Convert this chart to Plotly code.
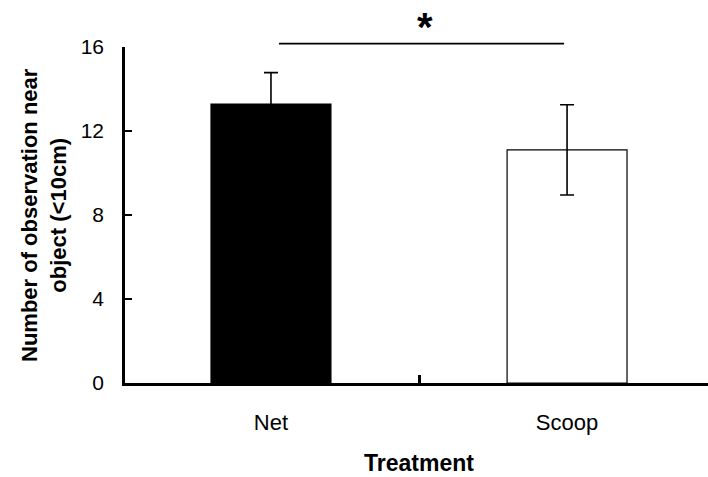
import plotly.graph_objects as go

categories = ["Net", "Scoop"]
means = [13.28, 11.1]
errors = [1.5, 2.15]
y_ticks = [0, 4, 8, 12, 16]
sig_level = 16.16
sig_label = "*"
x_title = "Treatment"
y_title = "Number of observation near<br>object (<10cm)"

FONT = "Liberation Sans, Arial, sans-serif"
xpos = list(range(len(categories)))

fig = go.Figure()
fig.add_trace(go.Bar(
    x=xpos, y=means, width=0.405,
    marker=dict(color=["black", "white"], line=dict(color="black", width=1.2)),
    error_y=dict(type="data", array=errors, color="black", thickness=1.6, width=7),
    showlegend=False,
))
# invisible trace on overlay axis to carry the mid tick
fig.add_trace(go.Scatter(x=[0.5], y=[0], xaxis="x2", mode="markers",
                         marker=dict(opacity=0), showlegend=False, hoverinfo="skip"))

xr = [-0.493, 1.476]
fig.update_layout(
    width=708, height=477,
    margin=dict(l=125, r=0, t=47, b=94),
    plot_bgcolor="white", paper_bgcolor="white",
    font=dict(family=FONT, size=22, color="black"),
    bargap=0.5,
    xaxis=dict(range=xr, tickvals=xpos, ticktext=categories, ticks="",
               showline=True, linecolor="black", linewidth=2.6,
               showgrid=False, zeroline=False, ticklabelstandoff=18,
               tickfont=dict(size=22)),
    xaxis2=dict(range=xr, overlaying="x", tickvals=[0.5], ticktext=[""],
                ticks="inside", ticklen=8, tickwidth=2.6, tickcolor="black",
                showline=False, showgrid=False, zeroline=False, side="bottom"),
    yaxis=dict(range=[0, 16], tickvals=y_ticks, ticks="inside", ticklen=7,
               tickwidth=2, tickcolor="black", showline=True, linecolor="black",
               linewidth=2.6, showgrid=False, zeroline=False,
               ticklabelstandoff=14, tickfont=dict(size=21)),
)

fig.add_shape(type="line", xref="x", yref="paper", x0=0.027, x1=0.99,
              y0=sig_level / 16, y1=sig_level / 16,
              line=dict(color="black", width=1.6))
fig.add_annotation(x=0.52, xref="x", y=sig_level / 16, yref="paper",
                   text="<b>" + sig_label + "</b>", showarrow=False,
                   yanchor="bottom", yshift=-7, font=dict(size=40, family=FONT))
fig.add_annotation(x=0.5, xref="x", y=0, yref="paper", yshift=-80,
                   text="<b>" + x_title + "</b>", showarrow=False,
                   yanchor="middle", font=dict(size=23, family=FONT))
fig.add_annotation(x=0, xref="paper", xshift=-81, y=0.5, yref="paper",
                   text="<b>" + y_title + "</b>", textangle=-90, showarrow=False,
                   xanchor="center", yanchor="middle",
                   font=dict(size=22, family=FONT))

fig.write_html("out.html")
